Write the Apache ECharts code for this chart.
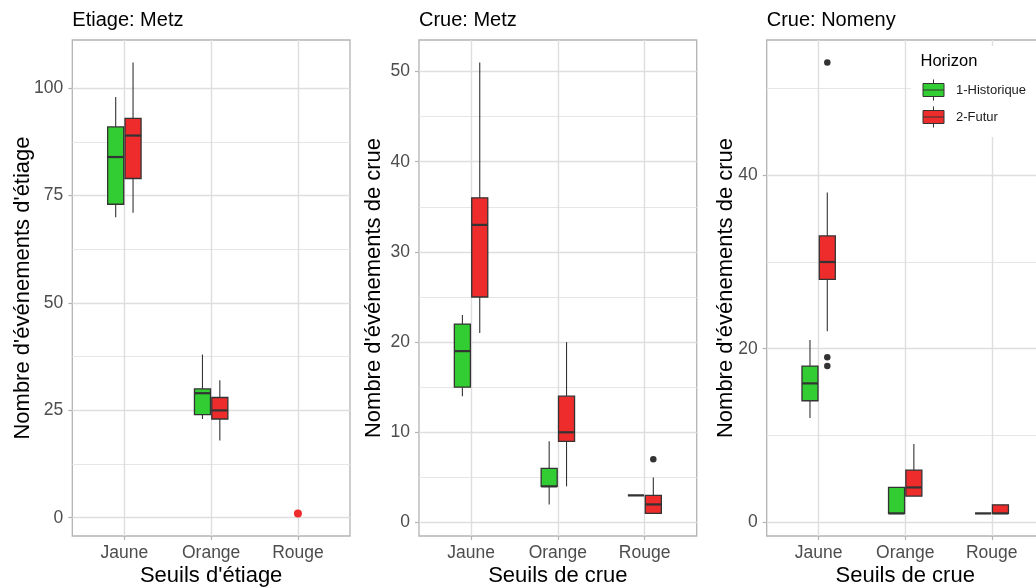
<!DOCTYPE html>
<html>
<head>
<meta charset="utf-8">
<script src="https://cdn.jsdelivr.net/npm/echarts@6/dist/echarts.min.js"></script>
<style>
  html, body { margin: 0; padding: 0; background: #fff; }
  #chart { width: 1036px; height: 587px; }
</style>
</head>
<body>
<div id="chart"></div>
<script>
const categories = ['Jaune', 'Orange', 'Rouge'];
const horizons = ['1-Historique', '2-Futur'];

// one row per seuil: [min, q1, median, q3, max], null when there is no box
const etiageMetzHisto = [[70, 73, 84, 91, 98], [23, 24, 29, 30, 38], null];
const etiageMetzFutur = [[71, 79, 89, 93, 106], [18, 23, 25, 28, 32], null];
const etiageMetzPoints = [[3, 1]]; // [seuil (1-based), value]

const crueMetzHisto = [[14, 15, 19, 22, 23], [2, 4, 4, 6, 9], [3, 3, 3, 3, 3]];
const crueMetzFutur = [[21, 25, 33, 36, 51], [4, 9, 10, 14, 20], [1, 1, 2, 3, 5]];
const crueMetzOutliers = [[3, 7]];

const crueNomenyHisto = [[12, 14, 16, 18, 21], [1, 1, 1, 4, 4], [1, 1, 1, 1, 1]];
const crueNomenyFutur = [[22, 28, 30, 33, 38], [3, 3, 4, 6, 9], [1, 1, 1, 2, 2]];
const crueNomenyOutliers = [[1, 53], [1, 19], [1, 18]];

const etiageTicks = [0, 25, 50, 75, 100];
const etiageMinor = [12.5, 37.5, 62.5, 87.5];
const crueMetzTicks = [0, 10, 20, 30, 40, 50];
const crueMetzMinor = [5, 15, 25, 35, 45];
const crueNomenyTicks = [0, 20, 40];
const crueNomenyMinor = [10, 30, 50];

const GREEN = '#32CD32';
const RED = '#EE2C2C';
const EDGE = '#333333';
const BORDER = '#B3B3B3';
const GRID = '#DEDEDE';
const FONT = '"Liberation Sans", Arial, sans-serif';
const BOX_WIDTH = 0.185;
const DODGE = 0.1;

const panels = [
  {
    title: 'Etiage: Metz', left: 72.3, width: 277.7, min: -4.25, max: 111.25,
    ticks: etiageTicks, minor: etiageMinor, nameGap: 38,
    yName: "Nombre d'événements d'étiage", xName: "Seuils d'étiage",
    histo: etiageMetzHisto, futur: etiageMetzFutur, outliers: [], points: etiageMetzPoints,
  },
  {
    title: 'Crue: Metz', left: 419, width: 277.7, min: -1.5, max: 53.5,
    ticks: crueMetzTicks, minor: crueMetzMinor, nameGap: 34,
    yName: "Nombre d'événements de crue", xName: 'Seuils de crue',
    histo: crueMetzHisto, futur: crueMetzFutur, outliers: crueMetzOutliers, points: [],
  },
  {
    title: 'Crue: Nomeny', left: 766.7, width: 277, min: -1.6, max: 55.6,
    ticks: crueNomenyTicks, minor: crueNomenyMinor, nameGap: 30,
    yName: "Nombre d'événements de crue", xName: 'Seuils de crue',
    histo: crueNomenyHisto, futur: crueNomenyFutur, outliers: crueNomenyOutliers, points: [],
  },
];

function boxRenderer(offset, color) {
  return function (params, api) {
    const cx = api.value(0) + offset;
    const lo = api.coord([cx, api.value(1)]);
    const q1 = api.coord([cx, api.value(2)]);
    const med = api.coord([cx, api.value(3)]);
    const q3 = api.coord([cx, api.value(4)]);
    const hi = api.coord([cx, api.value(5)]);
    const left = api.coord([cx - BOX_WIDTH / 2, 0])[0];
    const right = api.coord([cx + BOX_WIDTH / 2, 0])[0];
    return {
      type: 'group',
      children: [
        { type: 'line', shape: { x1: hi[0], y1: hi[1], x2: q3[0], y2: q3[1] }, style: { stroke: EDGE, lineWidth: 1.1 } },
        { type: 'line', shape: { x1: q1[0], y1: q1[1], x2: lo[0], y2: lo[1] }, style: { stroke: EDGE, lineWidth: 1.1 } },
        {
          type: 'rect',
          shape: { x: left, y: q3[1], width: right - left, height: q1[1] - q3[1] },
          style: { fill: color, stroke: EDGE, lineWidth: 1.3, opacity: 1 },
        },
        { type: 'line', shape: { x1: left, y1: med[1], x2: right, y2: med[1] }, style: { stroke: EDGE, lineWidth: 2.2 } },
      ],
    };
  };
}

function boxData(rows) {
  const out = [];
  rows.forEach((r, i) => {
    if (r) out.push([i + 1].concat(r));
  });
  return out;
}

const grid = [];
const xAxis = [];
const yAxis = [];
const series = [];
const title = [];

panels.forEach((p, g) => {
  grid.push({
    left: p.left, width: p.width, top: 40, height: 496,
    show: true, backgroundColor: '#fff', borderColor: BORDER, borderWidth: 1.3,
    containLabel: false, outerBoundsMode: 'none',
  });
  title.push({
    text: p.title, left: p.left, top: 10, padding: 0,
    textStyle: { fontSize: 20, fontWeight: 'normal', color: '#000', fontFamily: FONT },
  });
  xAxis.push({
    type: 'value', gridIndex: g, min: 0.4, max: 3.6, position: 'bottom',
    name: p.xName, nameLocation: 'middle', nameGap: 29, nameMoveOverlap: false,
    nameTextStyle: { fontSize: 22, color: '#000', fontFamily: FONT },
    axisLine: { show: false, onZero: false },
    axisTick: { show: true, length: 4, customValues: [1, 2, 3], lineStyle: { color: BORDER, width: 1.2 } },
    axisLabel: {
      customValues: [1, 2, 3], formatter: (v) => categories[Math.round(v) - 1],
      fontSize: 17.5, color: '#4D4D4D', margin: 8, fontFamily: FONT,
    },
    splitLine: { show: true, lineStyle: { color: GRID, width: 1.4 } },
  });
  yAxis.push({
    type: 'value', gridIndex: g, min: p.min, max: p.max, position: 'left',
    name: p.yName, nameLocation: 'middle', nameGap: p.nameGap, nameMoveOverlap: false,
    nameTextStyle: { fontSize: 22, color: '#000', fontFamily: FONT },
    axisLine: { show: false, onZero: false },
    axisTick: { show: true, length: 4, customValues: p.ticks, lineStyle: { color: BORDER, width: 1.2 } },
    axisLabel: { customValues: p.ticks, fontSize: 17.5, color: '#4D4D4D', margin: 9, fontFamily: FONT },
    splitLine: { show: true, lineStyle: { color: GRID, width: 1.4 } },
  });
  // minor grid lines
  yAxis.push({
    type: 'value', gridIndex: g, min: p.min, max: p.max, position: 'left',
    axisLine: { show: false, onZero: false },
    axisTick: { show: false, customValues: p.minor },
    axisLabel: { show: false, customValues: p.minor },
    splitLine: { show: true, lineStyle: { color: '#E6E6E6', width: 1 } },
  });

  [[p.histo, -DODGE, GREEN, horizons[0]], [p.futur, DODGE, RED, horizons[1]]].forEach(([rows, off, color, name]) => {
    series.push({
      type: 'custom', name, xAxisIndex: g, yAxisIndex: 2 * g,
      itemStyle: { color },
      encode: { x: 0, y: [1, 2, 3, 4, 5] },
      renderItem: boxRenderer(off, color),
      data: boxData(rows),
      z: 3,
    });
  });
  if (p.outliers.length) {
    series.push({
      type: 'scatter', xAxisIndex: g, yAxisIndex: 2 * g,
      symbolSize: 6.5, itemStyle: { color: EDGE, opacity: 1 },
      data: p.outliers.map(([c, v]) => [c + DODGE, v]),
      z: 4,
    });
  }
  if (p.points.length) {
    series.push({
      type: 'scatter', xAxisIndex: g, yAxisIndex: 2 * g,
      symbolSize: 8, itemStyle: { color: RED, opacity: 1 },
      data: p.points,
      z: 4,
    });
  }
});

title.push({
  text: 'Horizon', left: 920.5, top: 53, padding: 0,
  textStyle: { fontSize: 16.5, fontWeight: 'normal', color: '#000', fontFamily: FONT },
});

const chart = echarts.init(document.getElementById('chart'), null, { renderer: 'canvas' });
chart.setOption({
  animation: false,
  backgroundColor: '#fff',
  title,
  grid,
  xAxis,
  yAxis,
  series,
  legend: {
    data: [
      { name: horizons[0], itemStyle: { color: GREEN } },
      { name: horizons[1], itemStyle: { color: RED } },
    ],
    orient: 'vertical', left: 922.5, top: 79, padding: 0,
    itemWidth: 21, itemHeight: 21.5, itemGap: 5,
    icon: 'path://M0,4H21V17H0Z M0,10.5H21 M10.5,0V4 M10.5,17V21',
    itemStyle: { borderColor: EDGE, borderWidth: 1 },
    textStyle: { fontSize: 13, color: '#1A1A1A', fontFamily: FONT, padding: [0, 0, 0, 7] },
    selectedMode: false,
    z: 6,
  },
  graphic: [
    { type: 'rect', left: 911, top: 46, z: 5, shape: { width: 130, height: 91 }, style: { fill: '#fff' } },
  ],
});
</script>
</body>
</html>
